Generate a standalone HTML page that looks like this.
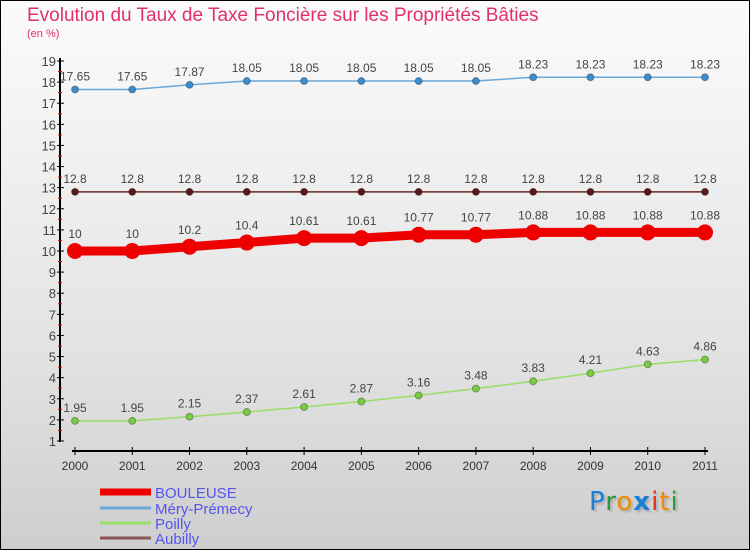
<!DOCTYPE html>
<html><head><meta charset="utf-8"><style>
body{margin:0}
#c{width:750px;height:550px;position:relative;box-sizing:border-box;border:1px solid #000;background:linear-gradient(#fbfbfb,#f0f0f0 30%,#e2e2e2 65%,#cecece);font-family:"Liberation Sans",sans-serif;overflow:hidden}
.t{position:absolute;white-space:nowrap}
</style></head><body>
<div id="c">
<div class="t" style="left:26px;top:4px;font-size:19px;color:#e0306a">Evolution du Taux de Taxe Foncière sur les Propriétés Bâties</div>
<div class="t" style="left:26px;top:27px;font-size:11px;color:#e0306a">(en %)</div>
<svg id="s" width="750" height="550" style="position:absolute;left:-1px;top:-1px"></svg>
<div class="t" style="left:588px;top:486px;font-size:26px;font-family:'DejaVu Sans',sans-serif;letter-spacing:1px;text-shadow:2px 2px 2px #aaa"><span style="color:#1a7fd6">P</span><span style="color:#2a9a3a">r</span><span style="color:#f08a00">o</span><span style="color:#1a7fd6;font-weight:bold">x</span><span style="color:#e83010">i</span><span style="color:#f08a00">t</span><span style="color:#2a9a3a">i</span></div>
</div>
<script>
const years=[2000,2001,2002,2003,2004,2005,2006,2007,2008,2009,2010,2011];
const bouleuse=[10,10,10.2,10.4,10.61,10.61,10.77,10.77,10.88,10.88,10.88,10.88];
const mery=[17.65,17.65,17.87,18.05,18.05,18.05,18.05,18.05,18.23,18.23,18.23,18.23];
const poilly=[1.95,1.95,2.15,2.37,2.61,2.87,3.16,3.48,3.83,4.21,4.63,4.86];
const aubilly=[12.8,12.8,12.8,12.8,12.8,12.8,12.8,12.8,12.8,12.8,12.8,12.8];
const yTicks=[1,2,3,4,5,6,7,8,9,10,11,12,13,14,15,16,17,18,19];
const names=["BOULEUSE","Méry-Prémecy","Poilly","Aubilly"];
const NS="http://www.w3.org/2000/svg",svg=document.getElementById('s');
const X=i=>75+i*(630/11), Y=v=>61+(19-v)*21.11;
function el(t,a,p){const e=document.createElementNS(NS,t);for(const k in a)e.setAttribute(k,a[k]);(p||svg).appendChild(e);return e;}
function tx(x,y,s,a,c,fs){const e=el('text',{x:x,y:y,'text-anchor':a,fill:c,'font-size':fs||12,'font-family':'Liberation Sans, sans-serif'});e.textContent=s;return e;}
let ax=el('line',{x1:60,y1:58,x2:60,y2:442,stroke:'#000','stroke-width':2});


yTicks.forEach(v=>{el('line',{x1:57,y1:Y(v),x2:64,y2:Y(v),stroke:'#000'});
 if(v<19)el('line',{x1:58,y1:Y(v+0.5),x2:62,y2:Y(v+0.5),stroke:'#e00'});
 const t=tx(56,Y(v)+5,String(v),'end','#444',13);
 
 });
let xa=el('line',{x1:72,y1:451,x2:708,y2:451,stroke:'#000','stroke-width':2});


years.forEach((y,i)=>{el('line',{x1:X(i),y1:447,x2:X(i),y2:455,stroke:'#000'});
 const t=tx(X(i),470,String(y),'middle','#333',12);
 
 });
const series=[[mery,'#6aa8d8','#3d8ccc',1.5,3.5,'mery-premecy'],[aubilly,'#6a2a2a','#5a1818',1.5,3.5,'aubilly'],[poilly,'#99dd66','#77cc44',1.5,3.5,'poilly'],[bouleuse,'#ee0000','#ee0000',9,8,'bouleuse']];
series.forEach(([d,lc,pc,w,r,n])=>{
 const pl=el('polyline',{points:d.map((v,i)=>X(i)+','+Y(v)).join(' '),fill:'none',stroke:lc,'stroke-width':w});
 
 
 d.forEach((v,i)=>{const c=el('circle',{cx:X(i),cy:Y(v),r:r,fill:pc,stroke:r<5?'rgba(0,0,0,0.3)':'none'});
  
  
  const t=tx(X(i),Y(v)-(r<5?9:13),String(v),'middle','#444',12);
  
  });
});
const lg=[['#ee0000',7],['#6aa8d8',3],['#99dd66',3],['#8a5555',3]];
lg.forEach(([c,h],i)=>{const y=[492,508,523,538][i];
 el('rect',{x:100,y:y-h/2,width:51,height:h,fill:c});
 const t=tx(155,y+6,names[i],'start','#5555ee',15);
 
 });
</script>
</body></html>
